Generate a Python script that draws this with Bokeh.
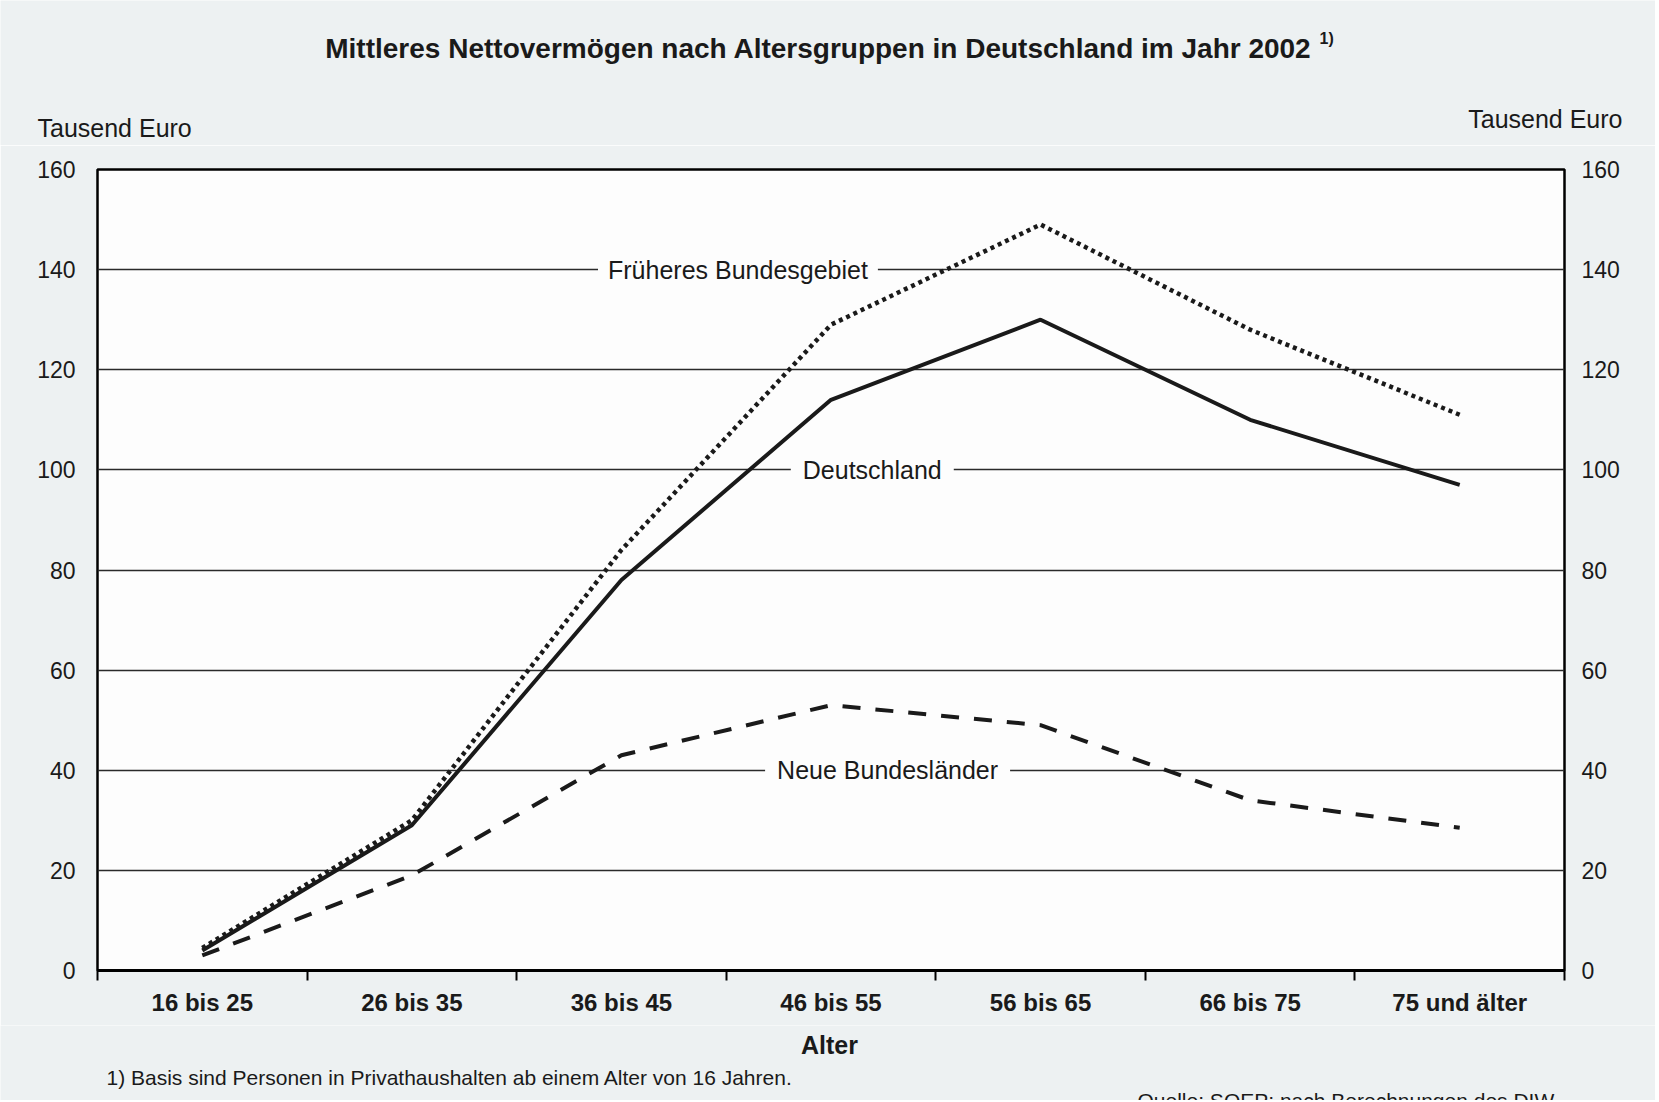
from bokeh.plotting import figure
from bokeh.layouts import column
from bokeh.models import Range1d, FixedTicker, LinearAxis, Label
from bokeh.core.properties import value
from bokeh.embed import file_html
from bokeh.resources import INLINE

# ---- data (Tausend Euro) ----
categories = ["16 bis 25", "26 bis 35", "36 bis 45", "46 bis 55", "56 bis 65", "66 bis 75", "75 und älter"]
deutschland = [4, 29, 78, 114, 130, 110, 97]
frueheres_bundesgebiet = [4.5, 30, 84, 129, 149, 128, 111]
neue_bundeslaender = [3, 19, 43, 53, 49, 34, 28.5]
y_ticks = [0, 20, 40, 60, 80, 100, 120, 140, 160]

title_text = "Mittleres Nettovermögen nach Altersgruppen in Deutschland im Jahr 2002"
unit_text = "Tausend Euro"
x_title = "Alter"
footnote = "1) Basis sind Personen in Privathaushalten ab einem Alter von 16 Jahren."
source = "Quelle: SOEP; nach Berechnungen des DIW"

W = 1655
HEAD_H, MAIN_H, FOOT_H = 145, 880, 75
FL, FR = 97, 1564            # frame left/right on canvas
FT, FB = 169, 970            # frame top/bottom on page
FONT = "Liberation Sans"
BG = "#edf1f2"
INK = "#1a1a1a"


def blank(h):
    f = figure(width=W, height=h, output_backend="svg", toolbar_location=None,
               x_range=Range1d(0, W), y_range=Range1d(h, 0),
               min_border=0, min_border_left=0, min_border_right=0,
               min_border_top=0, min_border_bottom=0, frame_align=False)
    f.axis.visible = False
    f.grid.visible = False
    f.outline_line_color = None
    f.background_fill_color = BG
    f.border_fill_color = BG
    return f


def txt(f, x, y, s, size, bold=False, align="left", baseline="middle"):
    f.text(x=[x], y=[y], text=[s], text_font=value(FONT), text_font_size=size,
           text_font_style="bold" if bold else "normal", text_color=INK,
           text_align=align, text_baseline=baseline)


# ---- header ----
head = blank(HEAD_H)
txt(head, 818, 48, title_text, "28px", True, "center")
txt(head, 1319, 38, "1)", "16px", True)
txt(head, 37, 127, unit_text, "25px")
txt(head, 1622, 118, unit_text, "25px", align="right")

# ---- main chart ----
x = list(range(1, len(categories) + 1))
top_border = FT - HEAD_H
bottom_border = HEAD_H + MAIN_H - FB

p = figure(width=W, height=MAIN_H, output_backend="svg", toolbar_location=None,
           x_range=Range1d(0.5, len(categories) + 0.5), y_range=Range1d(0, 160),
           min_border_left=FL, min_border_right=W - FR,
           min_border_top=top_border, min_border_bottom=bottom_border, frame_align=False)
p.border_fill_color = BG
p.background_fill_color = "#fdfdfd"
p.outline_line_color = "black"
p.outline_line_width = 2.5

xa = p.xaxis[0]
xa.ticker = FixedTicker(ticks=x, minor_ticks=[i + 0.5 for i in range(0, len(categories) + 1)])
xa.major_label_overrides = {i: c for i, c in zip(x, categories)}
xa.major_tick_out = 0
xa.major_tick_in = 0
xa.minor_tick_out = 10
xa.minor_tick_in = 0
xa.minor_tick_line_color = "black"
xa.minor_tick_line_width = 2
xa.axis_line_color = "black"
xa.axis_line_width = 3
xa.major_label_standoff = 8
xa.major_label_text_font = FONT
xa.major_label_text_font_style = "bold"
xa.major_label_text_font_size = "24px"
xa.major_label_text_color = INK

ya = p.yaxis[0]
ya.ticker = FixedTicker(ticks=y_ticks)
ya.axis_line_color = None
ya.major_tick_out = 0
ya.major_tick_in = 0
ya.minor_tick_out = 0
ya.minor_tick_in = 0
ya.major_label_standoff = 22
ya.major_label_text_font = FONT
ya.major_label_text_font_size = "23px"
ya.major_label_text_color = INK

ra = LinearAxis(ticker=FixedTicker(ticks=y_ticks))
ra.axis_line_color = None
ra.major_tick_out = 0
ra.major_tick_in = 0
ra.minor_tick_out = 0
ra.minor_tick_in = 0
ra.major_label_standoff = 17
ra.major_label_text_font = FONT
ra.major_label_text_font_size = "23px"
ra.major_label_text_color = INK
p.add_layout(ra, "right")

p.xgrid.visible = False
p.ygrid.ticker = FixedTicker(ticks=y_ticks[1:-1])
p.ygrid.grid_line_color = "#2a2a2a"
p.ygrid.grid_line_width = 1.6

p.line(x, frueheres_bundesgebiet, line_color=INK, line_width=4.5, line_dash="4 4")
p.line(x, deutschland, line_color=INK, line_width=4)
p.line(x, neue_bundeslaender, line_color=INK, line_width=4, line_dash="18 15")


def series_label(xv, yv, s, pad):
    p.add_layout(Label(x=xv, y=yv, text=s, text_align="center", text_baseline="middle",
                       text_font=FONT, text_font_size="25px", text_color=INK,
                       background_fill_color="#fdfdfd", padding=pad))


series_label(3.556, 140, "Früheres Bundesgebiet", 10)
series_label(4.197, 100, "Deutschland", 12)
series_label(4.27, 40, "Neue Bundesländer", 12)

# ---- footer ----
foot = blank(FOOT_H)
y0 = HEAD_H + MAIN_H
txt(foot, 829, 1044 - y0, x_title, "25px", True, "center")
txt(foot, 106, 1077 - y0, footnote, "21px")
txt(foot, 1137, 1088 - y0, source, "21px", baseline="top")

layout = column(head, p, foot, spacing=0)
open("out.html", "w").write(file_html(layout, INLINE))
